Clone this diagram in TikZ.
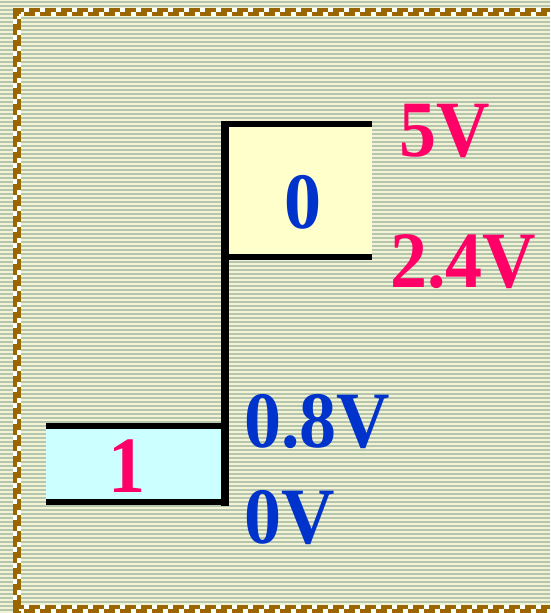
\documentclass[tikz,border=0pt]{standalone}
\usepackage{fontspec}
\setmainfont{Liberation Serif}
\definecolor{bgcream}{HTML}{F2F2D4}
\definecolor{bgstripe}{HTML}{B6C6AE}
\definecolor{brd}{HTML}{996600}
\definecolor{boxyellow}{HTML}{FFFFCC}
\definecolor{boxcyan}{HTML}{CCFFFF}
\definecolor{txtblue}{HTML}{0033CC}
\definecolor{txtred}{HTML}{FF0066}
\tikzset{
  lvl/.style={inner sep=0pt, anchor=base west, font=\fontsize{74}{74}\selectfont\bfseries},
  digit/.style={inner sep=0pt, anchor=base, font=\fontsize{74}{74}\selectfont\bfseries},
  wall/.style={line width=6.5pt, black},
  brdbase/.style={line width=8pt, white},
  brdA/.style={line width=4pt, brd, dash pattern=on 11pt off 5pt},
  brdB/.style={line width=4pt, brd, dash pattern=on 11pt off 5pt, dash phase=5pt}
}
\newcommand{\vs}[1]{\scalebox{1}[1.08]{#1}}
\begin{document}
\begin{tikzpicture}[x=1pt,y=-1pt]
\useasboundingbox (0,0) rectangle (550,613);
% background stripes
\fill[bgcream] (0,0) rectangle (550,613);
\foreach \k in {0,...,153} {
  \fill[bgstripe] (0,{4*\k+1}) rectangle (550,{4*\k+2.6});
}
% dashed border
\draw[brdbase] (17,8) -- (17,613);
\draw[brdbase] (13,12) -- (550,12);
\draw[brdbase] (13,609) -- (550,609);
\draw[brdA] (15,8) -- (15,613);
\draw[brdB] (19,8) -- (19,613);
\draw[brdA] (13,10) -- (550,10);
\draw[brdB] (13,14) -- (550,14);
\draw[brdA] (13,607) -- (550,607);
\draw[brdB] (13,611) -- (550,611);
% boxes
\coordinate (topL) at (225,124);
\coordinate (topR) at (372,124);
\coordinate (midL) at (225,257);
\coordinate (midR) at (372,257);
\coordinate (lowTL) at (46,426);
\coordinate (lowTR) at (225,426);
\coordinate (lowBL) at (46,502);
\coordinate (lowBR) at (225,502);
\fill[boxyellow] (topL) rectangle (midR);
\fill[boxcyan] (lowTL) rectangle (lowBR);
\draw[wall] (221.75,124) -- (topR);
\draw[wall] (midL) -- (midR);
\draw[wall] (lowTL) -- (lowTR);
\draw[wall] (lowBL) -- (lowBR);
\draw[line width=8pt] (225,121) -- (225,506);
% digits
\node[digit, txtblue] (zero) at (303,228) {\vs{0}};
\node[digit, txtred] (one) at (127,492) {\vs{1}};
% level labels
\node[lvl, txtred] (v5) at (399,156) {\vs{5V}};
\node[lvl, txtred] (v24) at (390,287) {\vs{2.4V}};
\node[lvl, txtblue] (v08) at (244,447) {\vs{0.8V}};
\node[lvl, txtblue] (v0) at (244,543) {\vs{0V}};
\end{tikzpicture}
\end{document}
